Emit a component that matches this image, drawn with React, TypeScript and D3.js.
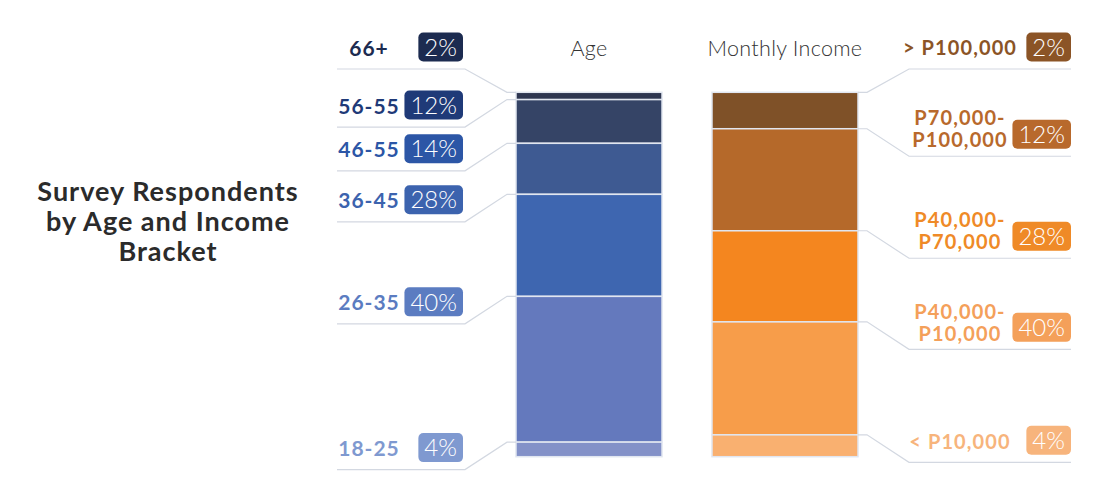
import * as d3 from "d3";
import { useEffect, useRef } from "react";

const ageGroups = ["66+", "56-55", "46-55", "36-45", "26-35", "18-25"];
const ageShares = [2, 12, 14, 28, 40, 4];
const ageBadges = ["2%", "12%", "14%", "28%", "40%", "4%"];

const incomeBrackets = [
  "> P100,000",
  "P70,000-\nP100,000",
  "P40,000-\nP70,000",
  "P40,000-\nP10,000",
  "< P10,000",
];
const incomeShares = [10, 28, 25, 31, 6];
const incomeBadges = ["2%", "12%", "28%", "40%", "4%"];

const columns = ["Age", "Monthly Income"];
const titleLines = ["Survey Respondents", "by Age and Income", "Bracket"];

const ageBarColors = ["#2e3650", "#354466", "#3e5a92", "#3e66b0", "#6479bd", "#8391c8"];
const ageTextColors = ["#1c2b50", "#1f3a78", "#2c56a6", "#3c63ae", "#5b7cc1", "#7f99d0"];
const incomeBarColors = ["#7f5128", "#b5692a", "#f4861f", "#f79d4a", "#f9b070"];
const incomeTextColors = ["#8b5426", "#b8692c", "#ef8a27", "#f4a05a", "#f7b47c"];

type Segment = {
  label: string;
  badge: string;
  color: string;
  textColor: string;
  y0: number;
  y1: number;
};

function stackSegments(
  labels: string[],
  shares: number[],
  badges: string[],
  colors: string[],
  textColors: string[]
): Segment[] {
  const tops = d3.cumsum([0, ...shares]);
  return labels.map((label, i) => ({
    label,
    badge: badges[i],
    color: colors[i],
    textColor: textColors[i],
    y0: 100 - tops[i],
    y1: 100 - tops[i + 1],
  }));
}

const App = () => {
  const ref = useRef<SVGSVGElement>(null);

  useEffect(() => {
    const width = 1107;
    const height = 504;
    const headerY = 48;
    const labelFont = "Lato, 'Open Sans', sans-serif";

    const svg = d3.select(ref.current);
    svg.selectAll("*").remove();
    svg.attr("width", width).attr("height", height);

    const x = d3.scaleBand().domain(columns).range([516, 858]).paddingInner(0.255);
    const y = d3.scaleLinear().domain([0, 100]).range([456.7, 92.3]);

    const age = stackSegments(ageGroups, ageShares, ageBadges, ageBarColors, ageTextColors);
    const income = stackSegments(
      incomeBrackets,
      incomeShares,
      incomeBadges,
      incomeBarColors,
      incomeTextColors
    );

    // title
    svg
      .append("text")
      .attr("text-anchor", "middle")
      .attr("font-family", labelFont)
      .attr("font-weight", 700)
      .attr("font-size", 27)
      .attr("letter-spacing", 1)
      .attr("fill", "#2b2b2b")
      .selectAll("tspan")
      .data(titleLines)
      .join("tspan")
      .attr("x", 168)
      .attr("y", (d, i) => 201 + i * 30)
      .text((d) => d);

    // column headers
    svg
      .selectAll(".header")
      .data(columns)
      .join("text")
      .attr("class", "header")
      .attr("x", (d) => (x(d) as number) + x.bandwidth() / 2)
      .attr("y", headerY)
      .attr("dy", "0.35em")
      .attr("text-anchor", "middle")
      .attr("font-family", labelFont)
      .attr("font-weight", 300)
      .attr("font-size", 21.5)
      .attr("letter-spacing", 0.3)
      .attr("fill", "#333")
      .text((d) => d);

    const drawBar = (col: string, segs: Segment[]) => {
      svg
        .append("g")
        .selectAll("rect")
        .data(segs)
        .join("rect")
        .attr("x", x(col) as number)
        .attr("width", x.bandwidth())
        .attr("y", (d) => y(d.y0))
        .attr("height", (d) => y(d.y1) - y(d.y0))
        .attr("fill", (d) => d.color)
        .attr("stroke", "#e1e6f0")
        .attr("stroke-width", 1.5);
    };
    drawBar("Age", age);
    drawBar("Monthly Income", income);

    // badge center: first label sits on the header row, others just below the segment top
    const badgeY = (d: Segment, i: number) => (i === 0 ? headerY - 1 : y(d.y0) + 5.5);

    const drawLabels = (segs: Segment[], side: "left" | "right") => {
      const barEdge =
        side === "left" ? (x("Age") as number) : (x("Monthly Income") as number) + x.bandwidth();
      const dir = side === "left" ? -1 : 1;
      const elbow = barEdge + dir * 9;
      const kneeX = barEdge + dir * 51;
      const lineEnd = side === "left" ? 337 : 1071;
      const badgeRight = side === "left" ? 463 : 1071;
      const textCenter = side === "left" ? 369 : 960;

      const g = svg.append("g").selectAll("g").data(segs).join("g");

      g.append("path")
        .attr("d", (d, i) => {
          const ly = badgeY(d, i) + 22;
          return `M${lineEnd},${ly}H${kneeX}L${elbow},${y(d.y0)}H${barEdge}`;
        })
        .attr("fill", "none")
        .attr("stroke", "#d3d8e1")
        .attr("stroke-width", 1.2);

      const badgeText = g
        .append("text")
        .attr("y", (d, i) => badgeY(d, i))
        .attr("dy", "0.36em")
        .attr("text-anchor", "middle")
        .attr("font-family", labelFont)
        .attr("font-weight", 300)
        .attr("font-size", 24)
        .attr("fill", "#fff")
        .text((d) => d.badge);

      badgeText.each(function (d, i) {
        const node = this as SVGTextElement;
        const w = node.getComputedTextLength() + 12;
        const cy = badgeY(d, i);
        d3.select(node.parentNode as SVGGElement)
          .insert("rect", "text")
          .attr("x", badgeRight - w)
          .attr("y", cy - 14.5)
          .attr("width", w)
          .attr("height", 29)
          .attr("rx", 5)
          .attr("fill", d.textColor);
        d3.select(node).attr("x", badgeRight - w / 2);
      });

      g.append("text")
        .attr("text-anchor", "middle")
        .attr("font-family", labelFont)
        .attr("font-weight", 700)
        .attr("font-size", side === "left" ? 21 : 20)
        .attr("letter-spacing", side === "left" ? 1 : 1.1)
        .attr("fill", (d) => d.textColor)
        .each(function (d, i) {
          const lines = d.label.split("\n");
          const cy = badgeY(d, i) + (lines.length > 1 ? -5 : 1);
          d3.select(this)
            .selectAll("tspan")
            .data(lines)
            .join("tspan")
            .attr("x", textCenter)
            .attr("y", (l, j) => cy + (j - (lines.length - 1) / 2) * 22)
            .attr("dy", "0.36em")
            .text((l) => l);
        });
    };

    drawLabels(age, "left");
    drawLabels(income, "right");
  }, []);

  return <svg ref={ref} style={{ position: "absolute", left: 0, top: 0, background: "#fff" }} />;
};

export default App;
